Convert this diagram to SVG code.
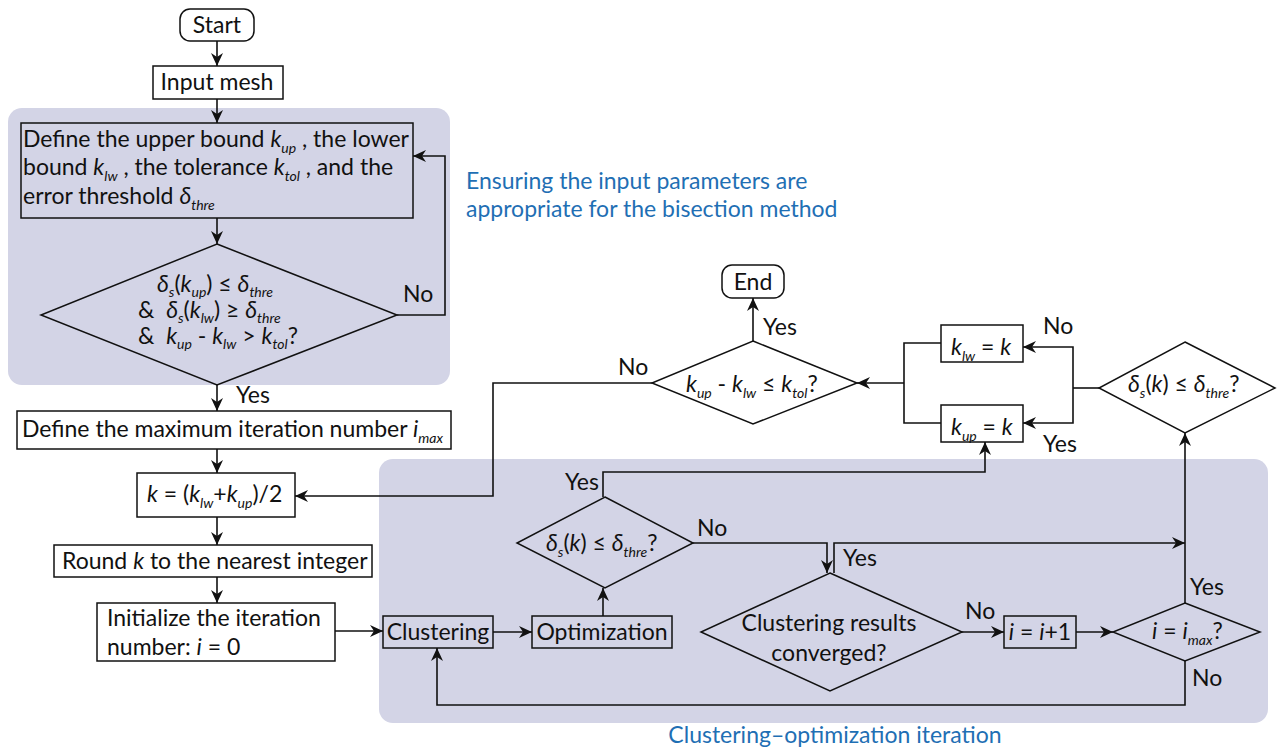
<svg xmlns="http://www.w3.org/2000/svg" width="1277" height="753" viewBox="0 0 1277 753">
<style>
text{font-family:Lato,"Open Sans","DejaVu Sans",sans-serif;font-size:23px;fill:#111}
.i{font-style:italic}
.s{font-style:italic;font-size:14px}
.c{text-anchor:middle}
.blue{fill:#1f6fb4}
.box{fill:none;stroke:#111;stroke-width:1.5}
.wbox{fill:#fff;stroke:#111;stroke-width:1.5}
.ln{fill:none;stroke:#111;stroke-width:1.6}
.arr{fill:none;stroke:#111;stroke-width:1.6;marker-end:url(#ah)}
.reg{fill:#d3d4e6}
</style>
<defs>
<marker id="ah" markerUnits="userSpaceOnUse" markerWidth="14" markerHeight="12" refX="13" refY="6" orient="auto">
<path d="M0,0 L13,6 L0,12 L4,6 z" fill="#111"/>
</marker>
</defs>
<rect width="1277" height="753" fill="#fff"/>
<g id="regions">
<rect class="reg" x="8" y="108" width="442" height="277" rx="14"/>
<rect class="reg" x="379" y="459" width="889" height="264" rx="14"/>
<text class="blue" x="466" y="189">Ensuring the input parameters are</text>
<text class="blue" x="466" y="217">appropriate for the bisection method</text>
<text class="blue c" x="835" y="743">Clustering–optimization iteration</text>
</g>
<g id="connectors">
<line class="arr" x1="217" y1="41" x2="217" y2="66"/>
<line class="arr" x1="217" y1="99" x2="217" y2="123"/>
<line class="arr" x1="217" y1="218" x2="217" y2="244"/>
<polyline class="arr" points="397,315 445,315 445,156 413,156"/>
<line class="arr" x1="217" y1="385" x2="217" y2="411"/>
<line class="arr" x1="217" y1="449" x2="217" y2="473"/>
<line class="arr" x1="217" y1="517" x2="217" y2="545"/>
<line class="arr" x1="217" y1="577" x2="217" y2="603"/>
<line class="arr" x1="335" y1="631" x2="383" y2="631"/>
<line class="arr" x1="493" y1="632" x2="532" y2="632"/>
<line class="arr" x1="603" y1="616" x2="603" y2="588"/>
<polyline class="arr" points="603,497 603,472 985,472 985,442"/>
<polyline class="arr" points="693,543 827,543 827,573"/>
<polyline class="arr" points="834,573 834,543 1185,543"/>
<line class="arr" x1="962" y1="632" x2="1004" y2="632"/>
<line class="arr" x1="1076" y1="632" x2="1113" y2="632"/>
<line class="arr" x1="1185" y1="603" x2="1185" y2="433"/>
<polyline class="arr" points="1185,661 1185,705 437,705 437,648"/>
<polyline class="ln" points="1099,388 1073,388"/>
<polyline class="arr" points="1073,388 1073,347 1023,347"/>
<polyline class="arr" points="1073,388 1073,423 1023,423"/>
<polyline class="ln" points="941,343 904,343 904,423 941,423"/>
<line class="arr" x1="904" y1="383" x2="857" y2="383"/>
<line class="arr" x1="753" y1="341" x2="753" y2="298"/>
<polyline class="arr" points="652,383 493,383 493,496 295,496"/>
<text x="403" y="302">No</text>
<text x="236" y="403">Yes</text>
<text x="565" y="490">Yes</text>
<text x="697" y="536">No</text>
<text x="843" y="566">Yes</text>
<text x="965" y="619">No</text>
<text x="1190" y="595">Yes</text>
<text x="1192" y="686">No</text>
<text x="1043" y="334">No</text>
<text x="1043" y="452">Yes</text>
<text x="763" y="335">Yes</text>
<text x="618" y="375">No</text>
</g>
<g id="start">
<rect class="wbox" x="180" y="9" width="74" height="32" rx="10"/>
<text class="c" x="217" y="33">Start</text>
</g>
<g id="input-mesh">
<rect class="wbox" x="153" y="66" width="130" height="33"/>
<text class="c" x="217" y="90">Input mesh</text>
</g>
<g id="define-bounds">
<rect class="box" x="21" y="123" width="392" height="95"/>
<text x="23" y="147">Define the upper bound <tspan class="i">k</tspan><tspan class="s" dy="6">up</tspan><tspan dy="-6"> , the lower</tspan></text>
<text x="23" y="175">bound <tspan class="i">k</tspan><tspan class="s" dy="6">lw</tspan><tspan dy="-6"> , the tolerance </tspan><tspan class="i">k</tspan><tspan class="s" dy="6">tol</tspan><tspan dy="-6"> , and the</tspan></text>
<text x="23" y="204">error threshold <tspan class="i">δ</tspan><tspan class="s" dy="6">thre</tspan></text>
</g>
<g id="check-bounds">
<polygon class="box" points="217,244 397,315 217,385 41,315"/>
<text x="157" y="292"><tspan class="i">δ</tspan><tspan class="s" dy="5">s</tspan><tspan dy="-5">(</tspan><tspan class="i">k</tspan><tspan class="s" dy="5">up</tspan><tspan dy="-5">) ≤ </tspan><tspan class="i">δ</tspan><tspan class="s" dy="5">thre</tspan></text>
<text x="138" y="318">&amp;&#160;&#160;<tspan class="i">δ</tspan><tspan class="s" dy="5">s</tspan><tspan dy="-5">(</tspan><tspan class="i">k</tspan><tspan class="s" dy="5">lw</tspan><tspan dy="-5">) ≥ </tspan><tspan class="i">δ</tspan><tspan class="s" dy="5">thre</tspan></text>
<text x="138" y="344">&amp;&#160;&#160;<tspan class="i">k</tspan><tspan class="s" dy="5">up</tspan><tspan dy="-5"> - </tspan><tspan class="i">k</tspan><tspan class="s" dy="5">lw</tspan><tspan dy="-5"> &gt; </tspan><tspan class="i">k</tspan><tspan class="s" dy="5">tol</tspan><tspan dy="-5">?</tspan></text>
</g>
<g id="define-imax">
<rect class="wbox" x="17" y="411" width="434" height="38"/>
<text x="22" y="437">Define the maximum iteration number <tspan class="i">i</tspan><tspan class="s" dy="6">max</tspan></text>
</g>
<g id="compute-k">
<rect class="wbox" x="137" y="473" width="158" height="44"/>
<text x="147" y="502"><tspan class="i">k</tspan> = (<tspan class="i">k</tspan><tspan class="s" dy="6">lw</tspan><tspan dy="-6">+</tspan><tspan class="i">k</tspan><tspan class="s" dy="6">up</tspan><tspan dy="-6">)/2</tspan></text>
</g>
<g id="round-k">
<rect class="wbox" x="54" y="545" width="318" height="32"/>
<text x="62" y="569">Round <tspan class="i">k</tspan> to the nearest integer</text>
</g>
<g id="init-i">
<rect class="wbox" x="97" y="603" width="238" height="58"/>
<text x="107" y="626">Initialize the iteration</text>
<text x="107" y="655">number: <tspan class="i">i</tspan> = 0</text>
</g>
<g id="clustering">
<rect class="box" x="383" y="616" width="110" height="32"/>
<text class="c" x="438" y="640">Clustering</text>
</g>
<g id="optimization">
<rect class="box" x="532" y="616" width="140" height="32"/>
<text class="c" x="602" y="640">Optimization</text>
</g>
<g id="check-error">
<polygon class="box" points="605,497 693,543 605,588 517,543"/>
<text x="546" y="551"><tspan class="i">δ</tspan><tspan class="s" dy="6">s</tspan><tspan dy="-6">(</tspan><tspan class="i">k</tspan>) ≤ <tspan class="i">δ</tspan><tspan class="s" dy="6">thre</tspan><tspan dy="-6">?</tspan></text>
</g>
<g id="converged">
<polygon class="box" points="830,573 962,632 830,691 701,632"/>
<text class="c" x="829" y="631">Clustering results</text>
<text class="c" x="829" y="661">converged?</text>
</g>
<g id="increment-i">
<rect class="box" x="1004" y="616" width="72" height="32"/>
<text class="c" x="1040" y="640"><tspan class="i">i</tspan> = <tspan class="i">i</tspan>+1</text>
</g>
<g id="check-imax">
<polygon class="box" points="1185,603 1260,632 1185,661 1113,632"/>
<text x="1152" y="639"><tspan class="i">i</tspan> = <tspan class="i">i</tspan><tspan class="s" dy="6">max</tspan><tspan dy="-6">?</tspan></text>
</g>
<g id="check-error-final">
<polygon class="wbox" points="1185,342 1275,388 1185,433 1099,388"/>
<text x="1128" y="392"><tspan class="i">δ</tspan><tspan class="s" dy="6">s</tspan><tspan dy="-6">(</tspan><tspan class="i">k</tspan>) ≤ <tspan class="i">δ</tspan><tspan class="s" dy="6">thre</tspan><tspan dy="-6">?</tspan></text>
</g>
<g id="set-klw">
<rect class="wbox" x="941" y="325" width="82" height="37"/>
<text x="951" y="355"><tspan class="i">k</tspan><tspan class="s" dy="6">lw</tspan><tspan dy="-6"> = </tspan><tspan class="i">k</tspan></text>
</g>
<g id="set-kup">
<rect class="wbox" x="941" y="405" width="82" height="37"/>
<text x="951" y="435"><tspan class="i">k</tspan><tspan class="s" dy="6">up</tspan><tspan dy="-6"> = </tspan><tspan class="i">k</tspan></text>
</g>
<g id="check-tol">
<polygon class="wbox" points="753,341 857,383 753,424 652,383"/>
<text x="686" y="392"><tspan class="i">k</tspan><tspan class="s" dy="6">up</tspan><tspan dy="-6"> - </tspan><tspan class="i">k</tspan><tspan class="s" dy="6">lw</tspan><tspan dy="-6"> ≤ </tspan><tspan class="i">k</tspan><tspan class="s" dy="6">tol</tspan><tspan dy="-6">?</tspan></text>
</g>
<g id="end">
<rect class="wbox" x="722" y="265" width="62" height="33" rx="10"/>
<text class="c" x="753" y="290">End</text>
</g>
</svg>
